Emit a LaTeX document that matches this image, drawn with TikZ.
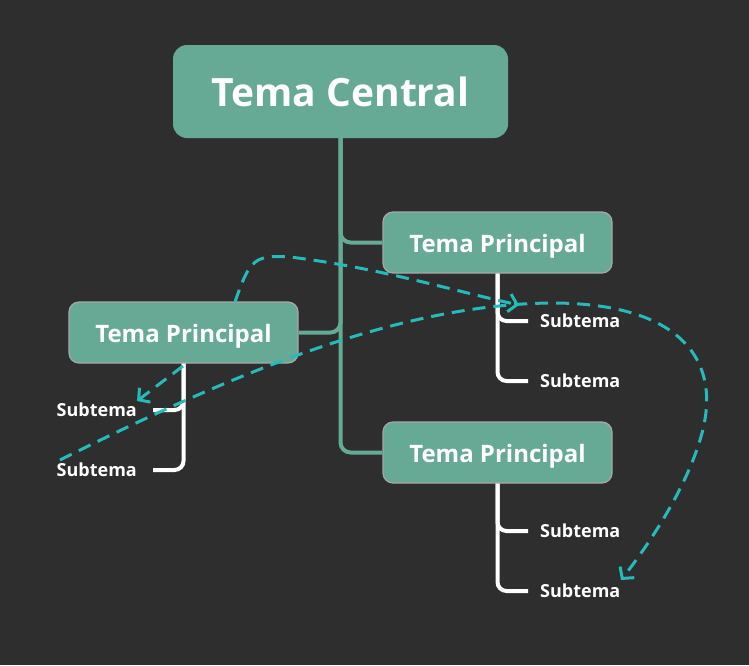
\documentclass[tikz,border=0pt]{standalone}
\usepackage{fontspec}
\setmainfont{Open Sans}
\usetikzlibrary{arrows.meta,calc}
\definecolor{bg}{HTML}{2E2E2E}
\definecolor{tgreen}{HTML}{66A994}
\definecolor{tborder}{HTML}{A8A8A8}
\definecolor{dcyan}{HTML}{26BABA}
\tikzset{
  centralbox/.style={rectangle, rounded corners=14pt, fill=tgreen, minimum width=335pt, minimum height=93pt, inner sep=0pt, text=white, font=\fontsize{39}{44}\selectfont\bfseries},
  mainbox/.style={rectangle, rounded corners=10pt, fill=tgreen, draw=tborder, line width=1.2pt, minimum width=229pt, minimum height=61pt, inner sep=0pt, text height=20pt, text depth=1pt, text=white, font=\fontsize{24}{26}\selectfont\bfseries},
  subnode/.style={inner sep=0pt, text=white, font=\fontsize{18}{20}\selectfont\bfseries},
  greenline/.style={draw=tgreen, line width=4pt, rounded corners=10pt},
  whiteline/.style={draw=white, line width=4pt, rounded corners=9pt},
  dashlink/.style={draw=dcyan, line width=3pt, dash pattern=on 13pt off 8pt, -{Straight Barb[length=8pt,width=18pt,line width=3pt]}},
}
\begin{document}
\begin{tikzpicture}[x=1pt,y=-1pt]
\fill[bg] (0,0) rectangle (749,665);
\useasboundingbox (0,0) rectangle (749,665);

\node[centralbox] (central) at (340.5,91.5) {Tema Central};
\node[mainbox] (ltp) at (183.5,332.5) {Tema Principal};
\node[mainbox] (rtp1) at (497.5,242.5) {Tema Principal};
\node[mainbox] (rtp2) at (497.5,452.5) {Tema Principal};

\node[subnode, anchor=east] (ls1) at (137,410) {Subtema};
\node[subnode, anchor=east] (ls2) at (137,470) {Subtema};
\node[subnode, anchor=west] (r1s1) at (540,321) {Subtema};
\node[subnode, anchor=west] (r1s2) at (540,381) {Subtema};
\node[subnode, anchor=west] (r2s1) at (540,531) {Subtema};
\node[subnode, anchor=west] (r2s2) at (540,591) {Subtema};

% trunk and branches
\draw[greenline] (central.south) |- (rtp2.west);
\draw[greenline] (central.south) |- (rtp1.west);
\draw[greenline] (ltp.east) -| (central.south);

% subtopic branches
\draw[whiteline] (ltp.south) |- ([xshift=16pt]ls1.east);
\draw[whiteline] (ltp.south) |- ([xshift=16pt]ls2.east);
\draw[whiteline] (rtp1.south) |- ([xshift=-12pt]r1s1.west);
\draw[whiteline] (rtp1.south) |- ([xshift=-12pt]r1s2.west);
\draw[whiteline] (rtp2.south) |- ([xshift=-12pt]r2s1.west);
\draw[whiteline] (rtp2.south) |- ([xshift=-12pt]r2s2.west);

% dashed links
\coordinate (a0) at (235,302);
\coordinate (a1) at (519,305);
\draw[dashlink] (a0) .. controls (250,258) and (255,255) .. (290,257) .. controls (380,268) and (450,290) .. (a1);

\coordinate (c0) at (183,366);
\coordinate (c1) at (137,401);
\draw[dashlink] (c0) -- (c1);

\coordinate (b0) at (60,460);
\coordinate (b1) at (621,580);
\draw[dashlink] (b0) .. controls (230,375) and (400,303) .. (555,303) .. controls (680,304) and (725,360) .. (700,440) .. controls (688,480) and (660,530) .. (b1);
\end{tikzpicture}
\end{document}
